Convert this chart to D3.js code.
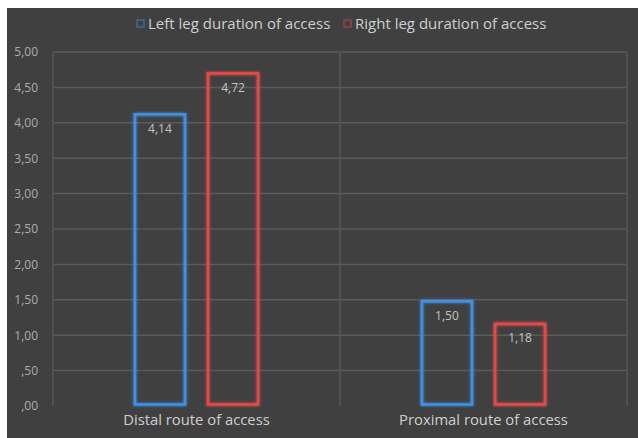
<!DOCTYPE html>
<html>
<head>
<meta charset="utf-8">
<script src="https://cdn.jsdelivr.net/npm/d3@7"></script>
<style>
  html, body { margin: 0; padding: 0; background: #ffffff; }
  svg { display: block; }
  text { font-family: "Open Sans", "Noto Sans", sans-serif; }
</style>
</head>
<body>
<svg id="chart" width="638" height="438"></svg>
<script>
// Mean duration of access, by route and leg
const categories = ["Distal route of access", "Proximal route of access"];
const seriesNames = ["Left leg duration of access", "Right leg duration of access"];
const leftLeg = [4.14, 1.50];
const rightLeg = [4.72, 1.18];
const yTicks = [0, 0.5, 1, 1.5, 2, 2.5, 3, 3.5, 4, 4.5, 5];
const seriesColors = ["#3f8fe0", "#e24a4a"];

const svg = d3.select("#chart");
const W = 638, H = 438;
const frame = { left: 7, top: 8 };
const plot = { left: 53, right: 627, top: 52, bottom: 406 };

const fmt = v => d3.format(".2f")(v).replace(".", ",").replace(/^0,/, ",");

// glow filter for bar outlines
const defs = svg.append("defs");
const glow = defs.append("filter").attr("id", "glow")
  .attr("x", "-30%").attr("y", "-30%").attr("width", "160%").attr("height", "160%");
glow.append("feGaussianBlur").attr("in", "SourceGraphic").attr("stdDeviation", 1.6).attr("result", "b");
const merge = glow.append("feMerge");
merge.append("feMergeNode").attr("in", "b");
merge.append("feMergeNode").attr("in", "SourceGraphic");

// dark chart background
svg.append("rect").attr("x", frame.left).attr("y", frame.top)
  .attr("width", W - frame.left).attr("height", H - frame.top)
  .attr("fill", "#404040");

const y = d3.scaleLinear().domain([0, 5]).range([plot.bottom, plot.top]);
const x0 = d3.scaleBand().domain(categories).range([plot.left, plot.right]).paddingInner(0).paddingOuter(0);
const x1 = d3.scaleBand().domain(seriesNames).range([0, x0.bandwidth()]).paddingInner(0.274).paddingOuter(1.10);

// horizontal gridlines
svg.append("g").selectAll("line").data(yTicks.filter(t => t > 0)).join("line")
  .attr("x1", plot.left).attr("x2", plot.right)
  .attr("y1", d => y(d)).attr("y2", d => y(d))
  .attr("stroke", "#5a5a5a").attr("stroke-width", 1.5);

// vertical category separators
svg.append("g").selectAll("line").data([plot.left, x0(categories[1]), plot.right]).join("line")
  .attr("x1", d => d).attr("x2", d => d)
  .attr("y1", plot.top).attr("y2", plot.bottom)
  .attr("stroke", "#575757").attr("stroke-width", 1.5);

// y axis labels
const yAxis = d3.axisLeft(y).tickValues(yTicks).tickFormat(fmt).tickSize(0).tickPadding(15);
const ya = svg.append("g").attr("transform", `translate(${plot.left},0)`).call(yAxis);
ya.select(".domain").remove();
ya.selectAll("text").attr("fill", "#acacac").attr("font-size", 12)
  .attr("font-family", "'Open Sans', sans-serif");

// x axis category labels
const xAxis = d3.axisBottom(x0).tickSize(0).tickPadding(8);
const xa = svg.append("g").attr("transform", `translate(0,${plot.bottom})`).call(xAxis);
xa.select(".domain").remove();
xa.selectAll("text").attr("fill", "#cfcfcf").attr("font-size", 14.8)
  .attr("font-family", "'Open Sans', sans-serif");

// bars
const rows = categories.map((c, i) => ({ cat: c, vals: [leftLeg[i], rightLeg[i]] }));
const groups = svg.append("g").selectAll("g").data(rows).join("g")
  .attr("transform", d => `translate(${x0(d.cat)},0)`);
const bars = groups.selectAll("g").data(d => d.vals.map((v, j) => ({ v, j }))).join("g");
bars.append("rect")
  .attr("x", d => x1(seriesNames[d.j]) + 1.5)
  .attr("y", d => y(d.v) + 1.5)
  .attr("width", x1.bandwidth() - 3)
  .attr("height", d => y(0) - y(d.v) - 3)
  .attr("fill", "none")
  .attr("stroke", d => seriesColors[d.j])
  .attr("stroke-width", 2.6)
  .attr("filter", "url(#glow)");
bars.append("text")
  .attr("x", d => x1(seriesNames[d.j]) + x1.bandwidth() / 2)
  .attr("y", d => y(d.v) + 20)
  .attr("text-anchor", "middle")
  .attr("fill", "#c4c4c4").attr("font-size", 12)
  .text(d => fmt(d.v));

// legend
const legend = svg.append("g");
const legendItems = [
  { name: seriesNames[0], x: 137 },
  { name: seriesNames[1], x: 344 }
];
legendItems.forEach((it, i) => {
  legend.append("rect").attr("x", it.x).attr("y", 20).attr("width", 7).attr("height", 7)
    .attr("fill", "none").attr("stroke", seriesColors[i]).attr("stroke-width", 1)
    .attr("opacity", 0.75);
  legend.append("text").attr("x", it.x + 11).attr("y", 29)
    .attr("fill", "#cfcfcf").attr("font-size", 15).text(it.name);
});
</script>
</body>
</html>
